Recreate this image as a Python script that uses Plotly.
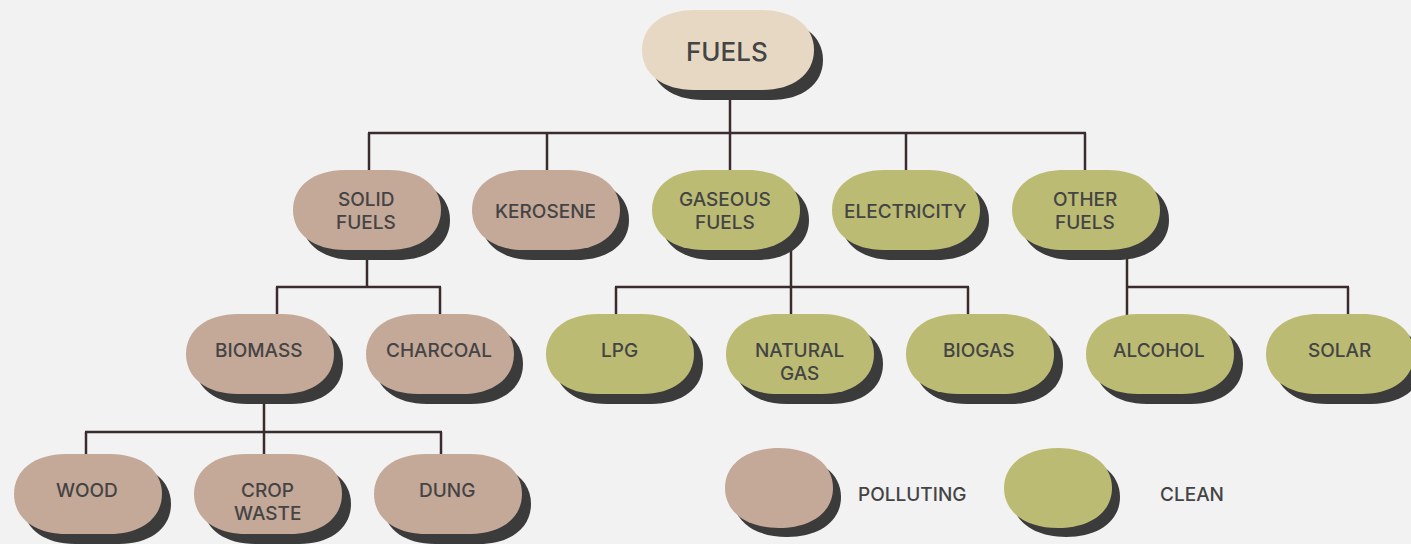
import plotly.graph_objects as go

# ---------------- data ----------------
labels = ["FUELS", "SOLID<br>FUELS", "KEROSENE", "GASEOUS<br>FUELS", "ELECTRICITY",
          "OTHER<br>FUELS", "BIOMASS", "CHARCOAL", "LPG", "NATURAL<br>GAS", "BIOGAS",
          "ALCOHOL", "SOLAR", "WOOD", "CROP<br>WASTE", "DUNG"]
parents = ["", "FUELS", "FUELS", "FUELS", "FUELS", "FUELS",
           "SOLID<br>FUELS", "SOLID<br>FUELS",
           "GASEOUS<br>FUELS", "GASEOUS<br>FUELS", "GASEOUS<br>FUELS",
           "OTHER<br>FUELS", "OTHER<br>FUELS",
           "BIOMASS", "BIOMASS", "BIOMASS"]
fuel_type = ["root", "polluting", "polluting", "clean", "clean", "clean",
             "polluting", "polluting", "clean", "clean", "clean", "clean", "clean",
             "polluting", "polluting", "polluting"]
legend_labels = ["POLLUTING", "CLEAN"]
legend_types = ["polluting", "clean"]

# ---------------- layout (pixel positions) ----------------
W, H = 1411, 544
node_center = {
    "FUELS": (728, 50),
    "SOLID<br>FUELS": (367, 210), "KEROSENE": (546, 210), "GASEOUS<br>FUELS": (726, 210),
    "ELECTRICITY": (906, 210), "OTHER<br>FUELS": (1086, 210),
    "BIOMASS": (260, 354), "CHARCOAL": (440, 354), "LPG": (620, 354),
    "NATURAL<br>GAS": (800, 354), "BIOGAS": (980, 354), "ALCOHOL": (1160, 354),
    "SOLAR": (1340, 354),
    "WOOD": (88, 494), "CROP<br>WASTE": (268, 494), "DUNG": (448, 494),
}
node_size = {"FUELS": (172, 80)}
default_size = (148, 80)
drop_x = {  # where the connector enters each child from above
    "SOLID<br>FUELS": 369, "KEROSENE": 547, "GASEOUS<br>FUELS": 730, "ELECTRICITY": 906,
    "OTHER<br>FUELS": 1085, "BIOMASS": 277, "CHARCOAL": 440, "LPG": 616,
    "NATURAL<br>GAS": 791, "BIOGAS": 968, "ALCOHOL": 1127, "SOLAR": 1348,
    "WOOD": 86, "CROP<br>WASTE": 264, "DUNG": 441,
}
stem_x = {"FUELS": 730, "SOLID<br>FUELS": 367, "GASEOUS<br>FUELS": 791,
          "OTHER<br>FUELS": 1127, "BIOMASS": 264}
bus_y = {"FUELS": 133, "SOLID<br>FUELS": 287, "GASEOUS<br>FUELS": 287,
         "OTHER<br>FUELS": 287, "BIOMASS": 432}
legend_center = {"POLLUTING": (779, 488), "CLEAN": (1058, 488)}
legend_text_x = {"POLLUTING": 856, "CLEAN": 1158}

colors = {"root": "#e7d8c4", "polluting": "#c4a898", "clean": "#bbbb74"}
shadow_color = "#3b3b3b"
line_color = "#3a2c2c"
text_color = "#444444"
BG = "#f2f2f2"
FONT = "Inter"
WEIGHT = 500
SH_DX, SH_DY = 9, 10
LINE_H = 23


def pill_path(cx, cy, w, h, rx=52, ry=None, k=0.6):
    ry = h / 2 if ry is None else ry
    x0, x1, y0, y1 = cx - w / 2, cx + w / 2, cy - h / 2, cy + h / 2
    p = f"M {x0+rx},{y0} L {x1-rx},{y0} "
    p += f"C {x1-rx+k*rx},{y0} {x1},{y0+ry-k*ry} {x1},{y0+ry} "
    p += f"L {x1},{y1-ry} "
    p += f"C {x1},{y1-ry+k*ry} {x1-rx+k*rx},{y1} {x1-rx},{y1} "
    p += f"L {x0+rx},{y1} "
    p += f"C {x0+rx-k*rx},{y1} {x0},{y1-ry+k*ry} {x0},{y1-ry} "
    p += f"L {x0},{y0+ry} "
    p += f"C {x0},{y0+ry-k*ry} {x0+rx-k*rx},{y0} {x0+rx},{y0} Z"
    return p


shapes = []
annotations = []

# connectors
children = {}
for lab, par in zip(labels, parents):
    if par:
        children.setdefault(par, []).append(lab)

for par, kids in children.items():
    pcx, pcy = node_center[par]
    ph = node_size.get(par, default_size)[1]
    sx, by = stem_x[par], bus_y[par]
    shapes.append(dict(type="line", x0=sx, x1=sx, y0=pcy + ph / 2 - 2, y1=by,
                       line=dict(color=line_color, width=2.5), layer="below"))
    xs = [drop_x[k] for k in kids] + [sx]
    shapes.append(dict(type="line", x0=min(xs) - 1, x1=max(xs) + 1, y0=by, y1=by,
                       line=dict(color=line_color, width=2.5), layer="below"))
    for k in kids:
        kcx, kcy = node_center[k]
        kh = node_size.get(k, default_size)[1]
        shapes.append(dict(type="line", x0=drop_x[k], x1=drop_x[k], y0=by,
                           y1=kcy - kh / 2 + 2,
                           line=dict(color=line_color, width=2.5), layer="below"))

# nodes
for lab, t in zip(labels, fuel_type):
    cx, cy = node_center[lab]
    w, h = node_size.get(lab, default_size)
    shapes.append(dict(type="path", path=pill_path(cx + SH_DX, cy + SH_DY, w, h),
                       fillcolor=shadow_color, line=dict(width=0), layer="above"))
    shapes.append(dict(type="path", path=pill_path(cx, cy, w, h),
                       fillcolor=colors[t], line=dict(width=0), layer="above"))
    lines = lab.split("<br>")
    nl = len(lines)
    if lab == "FUELS":
        first, size = cy + 1, 26
    elif cy > 300:  # lower levels: first line aligned with single-line labels
        first, size = cy - 4, 19
    else:
        first, size = cy + 1 - (nl - 1) * LINE_H / 2, 19
    for i, ln in enumerate(lines):
        annotations.append(dict(x=cx - 1, y=first + i * LINE_H, text=ln, showarrow=False,
                                xanchor="center", yanchor="middle",
                                font=dict(family=FONT, size=size, color=text_color,
                                          weight=WEIGHT)))

# legend
for lab, t in zip(legend_labels, legend_types):
    cx, cy = legend_center[lab]
    shapes.append(dict(type="path", path=pill_path(cx + 8, cy + 9, 108, 80, rx=54),
                       fillcolor=shadow_color, line=dict(width=0), layer="above"))
    shapes.append(dict(type="path", path=pill_path(cx, cy, 108, 80, rx=54),
                       fillcolor=colors[t], line=dict(width=0), layer="above"))
    annotations.append(dict(x=legend_text_x[lab], y=cy + 6, text=lab, showarrow=False,
                            xanchor="left", yanchor="middle",
                            font=dict(family=FONT, size=19, color=text_color,
                                      weight=WEIGHT)))

fig = go.Figure()
fig.add_trace(go.Scatter(x=[0, W], y=[0, H], mode="markers",
                         marker=dict(opacity=0), hoverinfo="skip", showlegend=False))
fig.update_layout(
    width=W, height=H, margin=dict(l=0, r=0, t=0, b=0),
    paper_bgcolor=BG, plot_bgcolor=BG,
    xaxis=dict(range=[0, W], visible=False, fixedrange=True),
    yaxis=dict(range=[H, 0], visible=False, fixedrange=True),
    shapes=shapes, annotations=annotations, showlegend=False,
)
fig.write_html("out.html", config={"displayModeBar": False},
               post_script="document.body.style.margin='0';"
                           "document.body.style.background='#f2f2f2';")
